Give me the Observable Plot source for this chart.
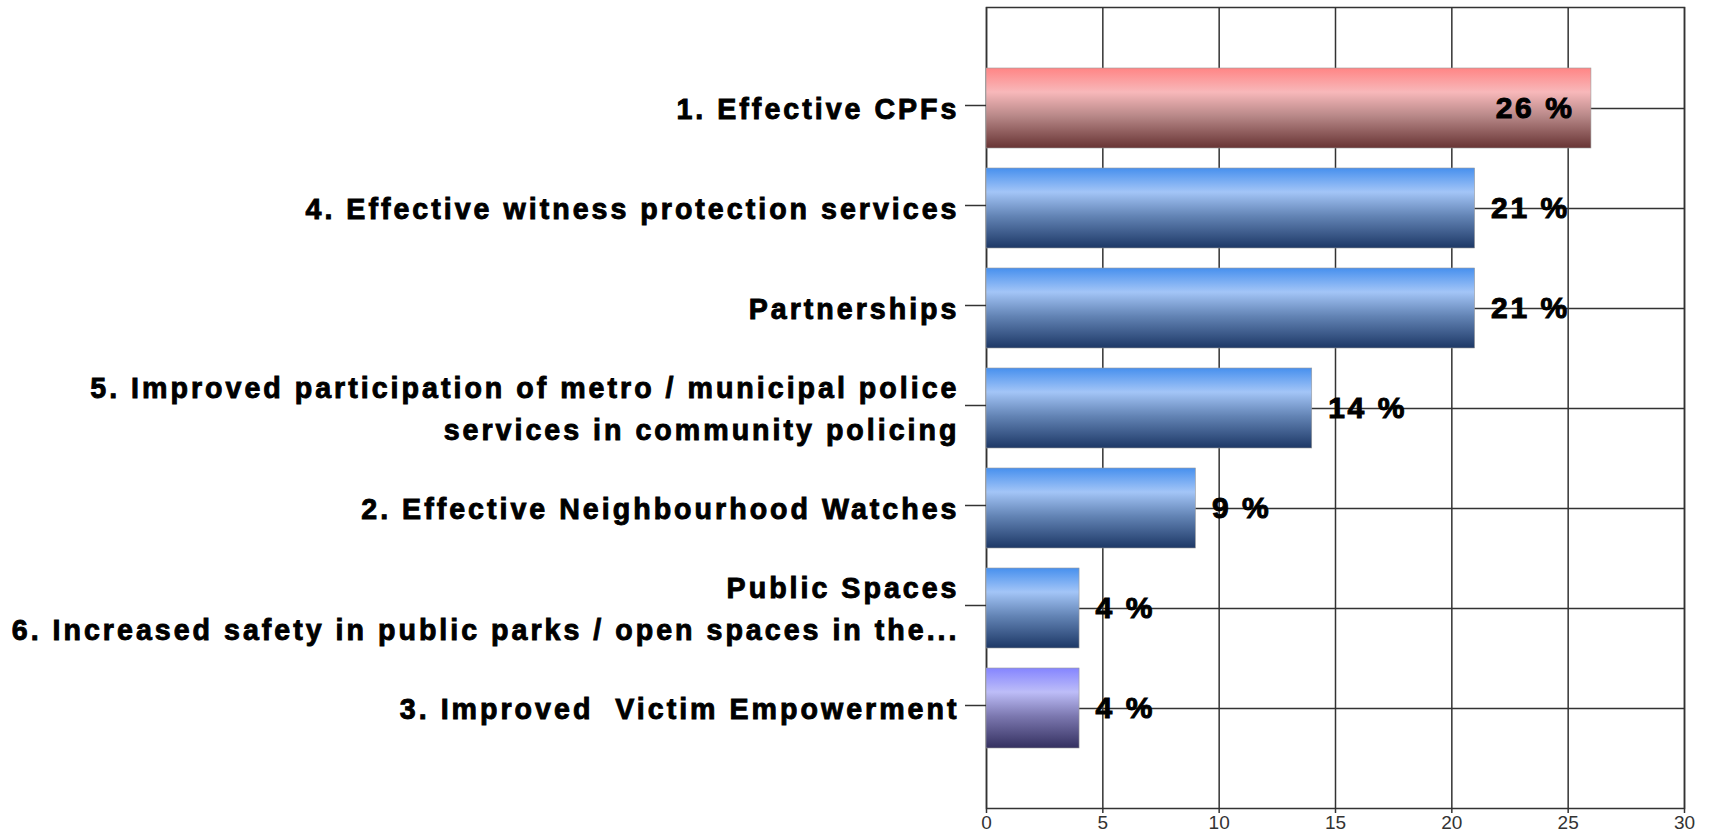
<!DOCTYPE html>
<html>
<head>
<meta charset="utf-8">
<script src="https://cdn.jsdelivr.net/npm/d3@7"></script>
<script src="https://cdn.jsdelivr.net/npm/@observablehq/plot@0.6"></script>
<style>
  html, body { margin: 0; padding: 0; background: #fff; }
  #chart svg { display: block; }
</style>
</head>
<body>
<div id="chart"></div>
<script>
const categories = [
  "1. Effective CPFs",
  "4. Effective witness protection services",
  "Partnerships",
  "5. Improved participation of metro / municipal police\nservices in community policing",
  "2. Effective Neighbourhood Watches",
  "Public Spaces\n6. Increased safety in public parks / open spaces in the...",
  "3. Improved  Victim Empowerment"
];
const values = [26, 21, 21, 14, 9, 4, 4];
const xTicks = [0, 5, 10, 15, 20, 25, 30];

const data = categories.map((c, i) => ({category: c, value: values[i], idx: i}));
const gradOf = d => d.idx === 0 ? "url(#gRed)" : d.idx === categories.length - 1 ? "url(#gPurple)" : "url(#gBlue)";
const inside = d => d.value > 25;

const lineColor = "#333";
const font = "Liberation Sans, Arial, sans-serif";

const chart = Plot.plot({
  width: 1709,
  height: 840,
  marginLeft: 986,
  marginRight: 25,
  marginTop: 7,
  marginBottom: 32,
  style: {fontFamily: font, background: "#fff", color: "#000"},
  x: {domain: [0, 30]},
  y: {domain: categories, paddingInner: 0.2, paddingOuter: 0.6},
  color: {type: "identity"},
  marks: [
    Plot.gridX({ticks: xTicks, stroke: lineColor, strokeOpacity: 1, strokeWidth: 1.5}),
    Plot.gridY({stroke: lineColor, strokeOpacity: 1, strokeWidth: 1.5}),
    Plot.frame({stroke: lineColor, strokeWidth: 1.5}),
    Plot.barX(data, {y: "category", x: "value", fill: gradOf, stroke: "#9a9a9a", strokeWidth: 0.6}),
    Plot.text(data.filter(d => !inside(d)), {
      y: "category", x: "value", text: d => d.value + " %",
      dx: 16, textAnchor: "start", fontSize: 30, fontWeight: "bold", fill: "#000"
    }),
    Plot.text(data.filter(inside), {
      y: "category", x: "value", text: d => d.value + " %",
      dx: -17, textAnchor: "end", fontSize: 30, fontWeight: "bold", fill: "#000"
    }),
    Plot.axisX({ticks: xTicks, tickSize: 5, tickPadding: 2, fontSize: 19, stroke: lineColor, strokeWidth: 1.5, color: "#333", label: null}),
    Plot.axisY({tickSize: 21, tickPadding: 6, fontSize: 28.6, fontWeight: "bold", lineHeight: 1.46, dy: -3, stroke: lineColor, strokeWidth: 1.5, label: null})
  ]
});

// gradients
const svg = d3.select(chart);
const defs = svg.insert("defs", ":first-child");
function grad(id, stops) {
  const g = defs.append("linearGradient").attr("id", id)
    .attr("x1", 0).attr("y1", 0).attr("x2", 0).attr("y2", 1);
  stops.forEach(([o, c]) => g.append("stop").attr("offset", o).attr("stop-color", c));
}
grad("gBlue", [[0, "#4790ee"], [0.3, "#a3c5f7"], [0.6, "#6384b5"], [1, "#1d3866"]]);
grad("gRed", [[0, "#ff8585"], [0.3, "#f8b8ba"], [0.6, "#b88888"], [1, "#683434"]]);
grad("gPurple", [[0, "#8585ff"], [0.3, "#bdbdf8"], [0.6, "#7c78b0"], [1, "#343060"]]);

// heavier, spaced labels
svg.selectAll("g[aria-label='y-axis tick label'] text")
  .style("letter-spacing", "3px")
  .attr("stroke", "#000").attr("stroke-width", 0.9).attr("paint-order", "stroke");
svg.selectAll("g[aria-label='text'] text")
  .style("letter-spacing", "2.6px")
  .attr("stroke", "#000").attr("stroke-width", 1).attr("paint-order", "stroke");

document.getElementById("chart").appendChild(chart);
</script>
</body>
</html>
